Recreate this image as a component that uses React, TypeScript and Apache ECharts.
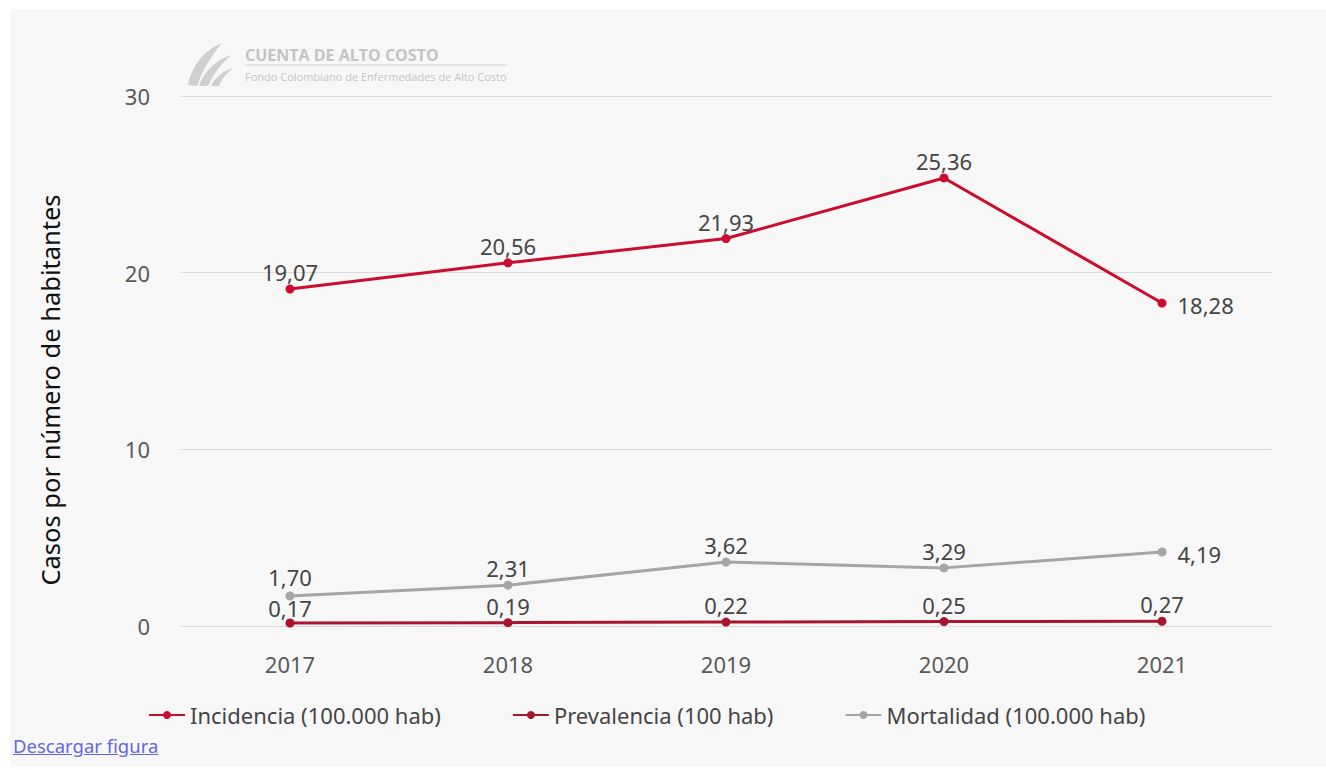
import React, { useEffect, useRef } from "react";
import * as echarts from "echarts";

const years = ["2017", "2018", "2019", "2020", "2021"];
const incidencia = [19.07, 20.56, 21.93, 25.36, 18.28];
const prevalencia = [0.17, 0.19, 0.22, 0.25, 0.27];
const mortalidad = [1.7, 2.31, 3.62, 3.29, 4.19];
const seriesNames = ["Incidencia (100.000 hab)", "Prevalencia (100 hab)", "Mortalidad (100.000 hab)"];
const yAxisTitle = "Casos por número de habitantes";
const logoTitle = "CUENTA DE ALTO COSTO";
const logoSubtitle = "Fondo Colombiano de Enfermedades de Alto Costo";

const FONT = "'Noto Sans', sans-serif";
const fmt = (v: number) => v.toFixed(2).replace(".", ",");

const leaf1 = "M 178 76 C 182 57 194 41 212 34 C 202 46 193 60 187 77 Z";
const leaf2 = "M 189 77 C 194 62 206 51 221 46 C 211 55 203 66 198 77 Z";
const leaf3 = "M 201 77 C 205 68 213 62 223 59 C 216 65 211 71 209 77 Z";

echarts.graphic.registerShape("leaf1", echarts.graphic.extendPath(leaf1, {}) as any);
echarts.graphic.registerShape("leaf2", echarts.graphic.extendPath(leaf2, {}) as any);
echarts.graphic.registerShape("leaf3", echarts.graphic.extendPath(leaf3, {}) as any);

export default function App() {
  const ref = useRef<HTMLDivElement>(null);
  useEffect(() => {
    if (!ref.current) return;
    const chart = echarts.init(ref.current, null, { renderer: "svg" });
    const labelBase = {
      show: true,
      fontFamily: FONT,
      fontSize: 22,
      lineHeight: 19,
      color: "#454545",
      formatter: (p: any) => fmt(p.value),
    };
    const mkSeries = (name: string, data: number[], color: string, firstNudge: number) => ({
      name,
      type: "line",
      data: data.map((v, i) => ({
        value: v,
        label: i === data.length - 1 && name !== seriesNames[1]
          ? { position: "right", distance: 11, offset: [0, 2] }
          : { position: "top", distance: 3, offset: [0, i === 0 ? firstNudge : 0] },
      })),
      symbol: "circle",
      symbolSize: 9,
      lineStyle: { width: 3, color },
      itemStyle: { color },
      label: labelBase,
      z: name === seriesNames[1] ? 3 : 2,
    });
    chart.setOption({
      animation: false,
      backgroundColor: "#f7f7f7",
      textStyle: { fontFamily: FONT },
      grid: { left: 171, right: 55, top: 87, bottom: 110 },
      legend: {
        left: 133,
        top: 690,
        itemGap: 71,
        itemWidth: 36,
        itemHeight: 10,
        textStyle: { fontFamily: FONT, fontSize: 22, color: "#454545" },
        data: seriesNames,
      },
      xAxis: {
        type: "category",
        data: years,
        boundaryGap: true,
        axisLine: { show: false },
        axisTick: { show: false },
        axisLabel: { fontFamily: FONT, fontSize: 22, color: "#595959", margin: 27 },
      },
      yAxis: {
        type: "value",
        min: 0,
        max: 30,
        interval: 10,
        axisLine: { show: false },
        axisTick: { show: false },
        axisLabel: { fontFamily: FONT, fontSize: 22, color: "#595959", margin: 31 },
        splitLine: { lineStyle: { color: "#d9d9d9", width: 1 } },
      },
      graphic: [
        {
          type: "text",
          x: 40,
          y: 381,
          rotation: Math.PI / 2,
          style: {
            text: yAxisTitle,
            fontFamily: FONT,
            fontSize: 25.5,
            fill: "#111111",
            align: "center",
            verticalAlign: "middle",
          },
        },
        { type: "leaf1", x: 0, y: 0, style: { fill: "#cfcfcf" } },
        { type: "leaf2", x: 0, y: 0, style: { fill: "#cfcfcf" } },
        { type: "leaf3", x: 0, y: 0, style: { fill: "#cfcfcf" } },
        {
          type: "text",
          x: 235,
          y: 46,
          style: {
            text: logoTitle,
            fontFamily: "'Open Sans', sans-serif",
            fontWeight: "bold",
            fontSize: 16,
            fill: "#c4c4c4",
            verticalAlign: "middle",
          },
        },
        {
          type: "line",
          shape: { x1: 235, y1: 56, x2: 497, y2: 56 },
          style: { stroke: "#cfcfcf", lineWidth: 1 },
        },
        {
          type: "text",
          x: 235,
          y: 67,
          style: {
            text: logoSubtitle,
            fontFamily: "'Open Sans', sans-serif",
            fontSize: 11,
            fill: "#c4c4c4",
            verticalAlign: "middle",
          },
        },
      ],
      series: [
        mkSeries(seriesNames[0], incidencia, "#cc0c2f", 0),
        mkSeries(seriesNames[1], prevalencia, "#a8162e", 2),
        mkSeries(seriesNames[2], mortalidad, "#a5a5a5", -2),
      ],
    });
    return () => chart.dispose();
  }, []);
  return (
    <div
      style={{
        position: "fixed",
        left: 10,
        top: 9,
        width: 1316,
        height: 758,
        background: "#f7f7f7",
      }}
    >
      <div ref={ref} style={{ width: 1316, height: 727 }} />
      <a
        href="#"
        style={{
          position: "absolute",
          left: 3,
          top: 724,
          fontFamily: "'Noto Sans', sans-serif",
          fontSize: 18.5,
          color: "#6666e0",
        }}
      >
        Descargar figura
      </a>
    </div>
  );
}
